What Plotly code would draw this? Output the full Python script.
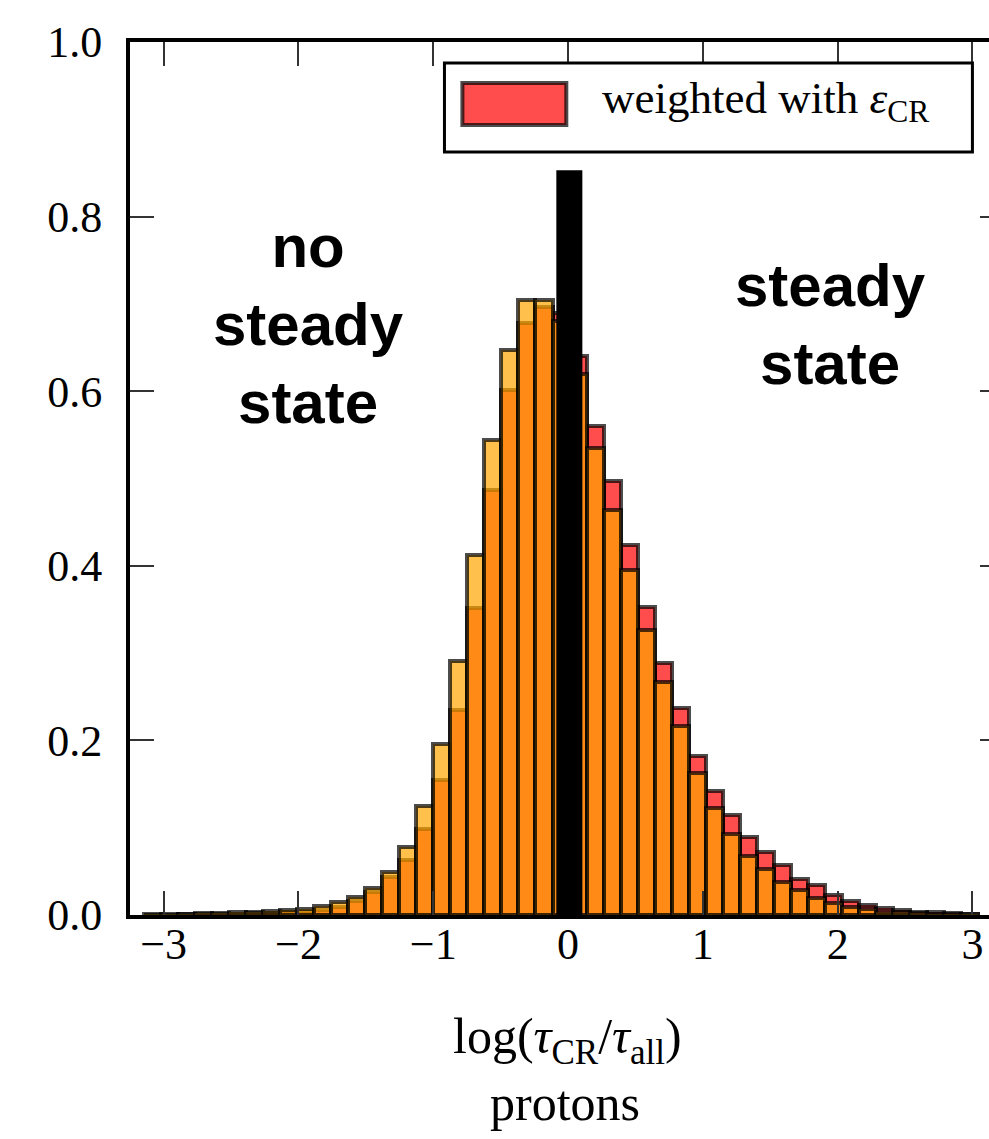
import plotly.graph_objects as go

# ---- data ----
bin_start = -3.149
bin_width = 0.1264
weighted_cr = [0.0004, 0.0005, 0.0008, 0.001, 0.001, 0.0015, 0.002, 0.0025, 0.003, 0.004,
               0.0057, 0.009, 0.0155, 0.0267, 0.044, 0.063, 0.098, 0.155, 0.235, 0.352,
               0.487, 0.601, 0.678, 0.697, 0.69, 0.64, 0.560, 0.497, 0.424, 0.353,
               0.289, 0.237, 0.182, 0.142, 0.1145, 0.0897, 0.072, 0.057, 0.041, 0.034,
               0.023, 0.016, 0.011, 0.0084, 0.006, 0.004, 0.003, 0.002, 0.0015]
unweighted = [0.0008, 0.001, 0.0015, 0.002, 0.0025, 0.003, 0.004, 0.005, 0.006, 0.0074,
              0.0103, 0.0145, 0.0206, 0.031, 0.0497, 0.0775, 0.125, 0.196, 0.291, 0.412,
              0.544, 0.647, 0.704, 0.704, 0.68, 0.62, 0.535, 0.464, 0.395, 0.326,
              0.267, 0.216, 0.163, 0.122, 0.093, 0.068, 0.053, 0.038, 0.029, 0.019,
              0.014, 0.0095, 0.007, 0.004, 0.003, 0.002, 0.0015, 0.001, 0.0008]
x_ticks = [-3, -2, -1, 0, 1, 2, 3]
x_tick_labels = ["\u22123", "\u22122", "\u22121", "0", "1", "2", "3"]
y_ticks = [0.0, 0.2, 0.4, 0.6, 0.8, 1.0]
y_tick_labels = ["0.0", "0.2", "0.4", "0.6", "0.8", "1.0"]
legend_label = "weighted with <i>\u03b5</i><sub>CR</sub>"
x_title = "log(<i>\u03c4</i><sub>CR</sub>/<i>\u03c4</i><sub>all</sub>)"
subtitle = "protons"
left_note = "<b>no<br>steady<br>state</b>"
right_note = "<b>steady<br>state</b>"

centers = [bin_start + bin_width * (i + 0.5) for i in range(len(weighted_cr))]

SERIF = "Liberation Serif, Times New Roman, serif"
SANS = "Liberation Sans, Arial, sans-serif"
EDGE = "rgba(0,0,0,0.7)"

fig = go.Figure()
fig.add_trace(go.Bar(x=centers, y=weighted_cr, width=bin_width,
                     marker=dict(color="rgba(255,0,0,0.7)", line=dict(color=EDGE, width=4)),
                     name="weighted", showlegend=False, hoverinfo="skip"))
fig.add_trace(go.Bar(x=centers, y=unweighted, width=bin_width,
                     marker=dict(color="rgba(255,165,0,0.7)", line=dict(color=EDGE, width=4)),
                     name="unweighted", showlegend=False, hoverinfo="skip"))
# helper trace for the right-hand tick axis
fig.add_trace(go.Scatter(x=[0], y=[0], yaxis="y2", mode="markers",
                         marker=dict(opacity=0), showlegend=False, hoverinfo="skip"))

fig.update_layout(
    width=989, height=1139,
    margin=dict(l=130, r=0, t=42, b=224),
    barmode="overlay",
    bargap=0,
    plot_bgcolor="white",
    paper_bgcolor="white",
    showlegend=False,
    xaxis=dict(range=[-3.25, 3.123], tickvals=x_ticks, ticktext=x_tick_labels,
               showline=True, linewidth=4, linecolor="black", mirror="ticks",
               ticks="inside", ticklen=24, tickwidth=2, tickcolor="#333",
               showgrid=False, zeroline=False,
               tickfont=dict(family=SERIF, size=44, color="black"),
               ticklabelstandoff=-13),
    yaxis=dict(range=[0, 1.0], tickvals=y_ticks, ticktext=y_tick_labels,
               showline=True, linewidth=4, linecolor="black",
               ticks="inside", ticklen=24, tickwidth=2, tickcolor="#333",
               showgrid=False, zeroline=False,
               tickfont=dict(family=SERIF, size=44, color="black"),
               ticklabelstandoff=15),
    yaxis2=dict(range=[0, 1.0], overlaying="y", side="right", tickvals=y_ticks,
                showticklabels=False, showline=False, showgrid=False, zeroline=False,
                ticks="inside", ticklen=9, tickwidth=2, tickcolor="#333"),
)

# black vertical divider
fig.add_shape(type="rect", xref="x", yref="y", x0=-0.087, x1=0.106, y0=0, y1=0.853,
              fillcolor="black", line=dict(width=0), layer="above")

# legend drawn by hand
fig.add_shape(type="rect", xref="x", yref="y", x0=-0.917, x1=3.0, y0=0.874, y1=0.976,
              fillcolor="white", line=dict(color="black", width=3), layer="above")
fig.add_shape(type="rect", xref="x", yref="y", x0=-0.784, x1=-0.013, y0=0.905, y1=0.953,
              fillcolor="rgba(255,0,0,0.7)", line=dict(color=EDGE, width=4), layer="above")
fig.add_annotation(x=0.239, y=0.932, xref="x", yref="y", text=legend_label,
                   showarrow=False, xanchor="left", yanchor="middle",
                   font=dict(family=SERIF, size=45, color="black"))

# notes
fig.add_annotation(x=-1.925, y=0.676, xref="x", yref="y", text=left_note,
                   showarrow=False, xanchor="center", yanchor="middle",
                   font=dict(family=SANS, size=60, color="black"))
fig.add_annotation(x=1.944, y=0.676, xref="x", yref="y", text=right_note,
                   showarrow=False, xanchor="center", yanchor="middle",
                   font=dict(family=SANS, size=60, color="black"))

# axis titles
fig.add_annotation(x=(567 - 130) / 859, y=(915 - 1040) / 873, xref="paper", yref="paper",
                   text=x_title, showarrow=False, xanchor="center", yanchor="middle",
                   font=dict(family=SERIF, size=50, color="black"))
fig.add_annotation(x=(565 - 130) / 859, y=(915 - 1103) / 873, xref="paper", yref="paper",
                   text=subtitle, showarrow=False, xanchor="center", yanchor="middle",
                   font=dict(family=SERIF, size=50, color="black"))

fig.write_html("out.html")
